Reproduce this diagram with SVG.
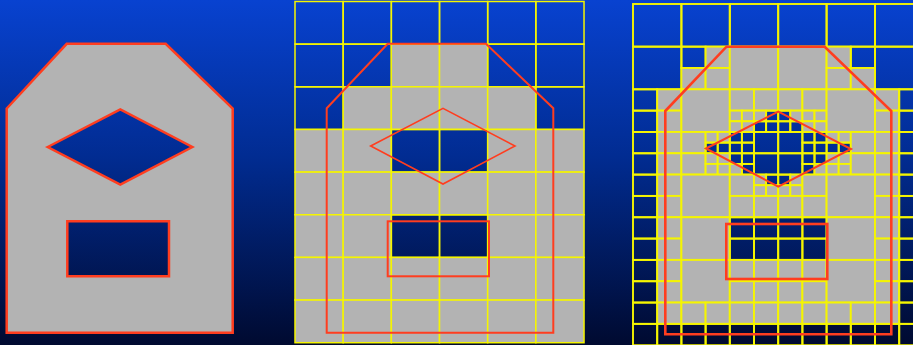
<svg xmlns="http://www.w3.org/2000/svg" width="913" height="345" viewBox="0 0 913 345">
<defs>
<linearGradient id="bg" x1="0" y1="0" x2="0" y2="1">
<stop offset="0" stop-color="#0842d0"/>
<stop offset="0.45" stop-color="#012c92"/>
<stop offset="1" stop-color="#000a30"/>
</linearGradient>
</defs>
<style>
.g{fill:#b3b3b3;stroke:#f5f500;stroke-width:1.5}
.b{fill:none;stroke:#f5f500;stroke-width:1.5}
#panel3 .g,#panel3 .b{stroke-width:1.9}
.red{fill:none;stroke:#ff3d1f;stroke-linejoin:miter}
.shape{fill:#b3b3b3;fill-rule:evenodd;stroke:#ff3d1f;stroke-width:2.5}
</style>
<rect width="913" height="345" fill="url(#bg)"/>

<g id="panel1">
<path class="shape" d="M6.7,108.5 L66.7,43.8 L165.7,43.8 L232.7,108.5 L232.7,332.7 L6.7,332.7 Z M47.7,147 L120.3,109.5 L192.3,147 L120.3,184.7 Z M67.3,221.3 L169,221.3 L169,276.3 L67.3,276.3 Z"/>
</g>

<g id="panel2">
<g id="p2-cells">
<rect class="b" x="295" y="1.5" width="48.17" height="42.65"/>
<rect class="b" x="343.17" y="1.5" width="48.17" height="42.65"/>
<rect class="b" x="391.34" y="1.5" width="48.17" height="42.65"/>
<rect class="b" x="439.51" y="1.5" width="48.17" height="42.65"/>
<rect class="b" x="487.68" y="1.5" width="48.17" height="42.65"/>
<rect class="b" x="535.85" y="1.5" width="48.17" height="42.65"/>

<rect class="b" x="295" y="44.15" width="48.17" height="42.65"/>
<rect class="b" x="343.17" y="44.15" width="48.17" height="42.65"/>
<rect class="g" x="391.34" y="44.15" width="48.17" height="42.65"/>
<rect class="g" x="439.51" y="44.15" width="48.17" height="42.65"/>
<rect class="b" x="487.68" y="44.15" width="48.17" height="42.65"/>
<rect class="b" x="535.85" y="44.15" width="48.17" height="42.65"/>

<rect class="b" x="295" y="86.8" width="48.17" height="42.65"/>
<rect class="g" x="343.17" y="86.8" width="48.17" height="42.65"/>
<rect class="g" x="391.34" y="86.8" width="48.17" height="42.65"/>
<rect class="g" x="439.51" y="86.8" width="48.17" height="42.65"/>
<rect class="g" x="487.68" y="86.8" width="48.17" height="42.65"/>
<rect class="b" x="535.85" y="86.8" width="48.17" height="42.65"/>

<rect class="g" x="295" y="129.45" width="48.17" height="42.65"/>
<rect class="g" x="343.17" y="129.45" width="48.17" height="42.65"/>
<rect class="b" x="391.34" y="129.45" width="48.17" height="42.65"/>
<rect class="b" x="439.51" y="129.45" width="48.17" height="42.65"/>
<rect class="g" x="487.68" y="129.45" width="48.17" height="42.65"/>
<rect class="g" x="535.85" y="129.45" width="48.17" height="42.65"/>

<rect class="g" x="295" y="172.1" width="48.17" height="42.65"/>
<rect class="g" x="343.17" y="172.1" width="48.17" height="42.65"/>
<rect class="g" x="391.34" y="172.1" width="48.17" height="42.65"/>
<rect class="g" x="439.51" y="172.1" width="48.17" height="42.65"/>
<rect class="g" x="487.68" y="172.1" width="48.17" height="42.65"/>
<rect class="g" x="535.85" y="172.1" width="48.17" height="42.65"/>

<rect class="g" x="295" y="214.75" width="48.17" height="42.65"/>
<rect class="g" x="343.17" y="214.75" width="48.17" height="42.65"/>
<rect class="b" x="391.34" y="214.75" width="48.17" height="42.65"/>
<rect class="b" x="439.51" y="214.75" width="48.17" height="42.65"/>
<rect class="g" x="487.68" y="214.75" width="48.17" height="42.65"/>
<rect class="g" x="535.85" y="214.75" width="48.17" height="42.65"/>

<rect class="g" x="295" y="257.4" width="48.17" height="42.65"/>
<rect class="g" x="343.17" y="257.4" width="48.17" height="42.65"/>
<rect class="g" x="391.34" y="257.4" width="48.17" height="42.65"/>
<rect class="g" x="439.51" y="257.4" width="48.17" height="42.65"/>
<rect class="g" x="487.68" y="257.4" width="48.17" height="42.65"/>
<rect class="g" x="535.85" y="257.4" width="48.17" height="42.65"/>

<rect class="g" x="295" y="300.05" width="48.17" height="42.65"/>
<rect class="g" x="343.17" y="300.05" width="48.17" height="42.65"/>
<rect class="g" x="391.34" y="300.05" width="48.17" height="42.65"/>
<rect class="g" x="439.51" y="300.05" width="48.17" height="42.65"/>
<rect class="g" x="487.68" y="300.05" width="48.17" height="42.65"/>
<rect class="g" x="535.85" y="300.05" width="48.17" height="42.65"/>
</g>
<g id="p2-outline">
<path class="red" stroke-width="2" d="M326.7,108.3 L387.7,43.8 L486,43.8 L553.3,108.3 L553.3,332.7 L326.7,332.7 Z"/>
<path class="red" stroke-width="1.6" d="M370.7,146 L443,108.3 L515,146 L443,184 Z"/>
<rect class="red" stroke-width="2" x="387.7" y="221.3" width="101.3" height="55"/>
</g>
</g>

<g id="panel3">
<g id="p3-cells">
<rect class="b" x="633" y="4" width="48.4" height="42.65"/>
<rect class="b" x="681.4" y="4" width="48.4" height="42.65"/>
<rect class="b" x="729.8" y="4" width="48.4" height="42.65"/>
<rect class="b" x="778.2" y="4" width="48.4" height="42.65"/>
<rect class="b" x="826.6" y="4" width="48.4" height="42.65"/>
<rect class="b" x="875" y="4" width="48.4" height="42.65"/>
<rect class="b" x="633" y="46.65" width="48.4" height="42.65"/>
<g transform="translate(681.4,46.65)">
<rect class="b" width="24.2" height="21.33"/><rect class="g" x="24.2" width="24.2" height="21.33"/>
<rect class="g" y="21.33" width="24.2" height="21.33"/><rect class="g" x="24.2" y="21.33" width="24.2" height="21.33"/>
</g>
<rect class="g" x="729.8" y="46.65" width="48.4" height="42.65"/>
<rect class="g" x="778.2" y="46.65" width="48.4" height="42.65"/>
<g transform="translate(826.6,46.65)">
<rect class="g" width="24.2" height="21.33"/><rect class="b" x="24.2" width="24.2" height="21.33"/>
<rect class="g" y="21.33" width="24.2" height="21.33"/><rect class="g" x="24.2" y="21.33" width="24.2" height="21.33"/>
</g>
<rect class="b" x="875" y="46.65" width="48.4" height="42.65"/>
<g transform="translate(633,89.3)">
<rect class="b" width="24.2" height="21.33"/><rect class="g" x="24.2" width="24.2" height="21.33"/>
<rect class="b" y="21.33" width="24.2" height="21.33"/><rect class="g" x="24.2" y="21.33" width="24.2" height="21.33"/>
</g>
<rect class="g" x="681.4" y="89.3" width="48.4" height="42.65"/>
<g transform="translate(729.8,89.3)">
<rect class="g" width="24.2" height="21.33"/><rect class="g" x="24.2" width="24.2" height="21.33"/>
<rect class="g" x="0" y="21.33" width="12.1" height="10.66"/><rect class="g" x="12.1" y="21.33" width="12.1" height="10.66"/>
<rect class="g" x="0" y="31.99" width="12.1" height="10.66"/><rect class="g" x="12.1" y="31.99" width="12.1" height="10.66"/>
<rect class="g" x="24.2" y="21.33" width="12.1" height="10.66"/><rect class="b" x="36.3" y="21.33" width="12.1" height="10.66"/>
<rect class="b" x="24.2" y="31.99" width="12.1" height="10.66"/><rect class="b" x="36.3" y="31.99" width="12.1" height="10.66"/>
</g>
<g transform="translate(778.2,89.3)">
<rect class="g" width="24.2" height="21.33"/><rect class="g" x="24.2" width="24.2" height="21.33"/>
<rect class="b" x="0" y="21.33" width="12.1" height="10.66"/><rect class="g" x="12.1" y="21.33" width="12.1" height="10.66"/>
<rect class="b" x="0" y="31.99" width="12.1" height="10.66"/><rect class="b" x="12.1" y="31.99" width="12.1" height="10.66"/>
<rect class="g" x="24.2" y="21.33" width="12.1" height="10.66"/><rect class="g" x="36.3" y="21.33" width="12.1" height="10.66"/>
<rect class="g" x="24.2" y="31.99" width="12.1" height="10.66"/><rect class="g" x="36.3" y="31.99" width="12.1" height="10.66"/>
</g>
<rect class="g" x="826.6" y="89.3" width="48.4" height="42.65"/>
<g transform="translate(875,89.3)">
<rect class="g" width="24.2" height="21.33"/><rect class="b" x="24.2" width="24.2" height="21.33"/>
<rect class="g" y="21.33" width="24.2" height="21.33"/><rect class="b" x="24.2" y="21.33" width="24.2" height="21.33"/>
</g>
<g transform="translate(633,131.95)">
<rect class="b" width="24.2" height="21.33"/><rect class="g" x="24.2" width="24.2" height="21.33"/>
<rect class="b" y="21.33" width="24.2" height="21.33"/><rect class="g" x="24.2" y="21.33" width="24.2" height="21.33"/>
</g>
<g transform="translate(681.4,131.95)">
<rect class="g" width="24.2" height="21.33"/>
<rect class="g" x="24.2" y="0" width="12.1" height="10.66"/><rect class="g" x="36.3" y="0" width="12.1" height="10.66"/>
<rect class="b" x="24.2" y="10.66" width="12.1" height="10.66"/><rect class="b" x="36.3" y="10.66" width="12.1" height="10.66"/>
<rect class="g" y="21.33" width="24.2" height="21.33"/>
<rect class="g" x="24.2" y="21.33" width="12.1" height="10.66"/><rect class="g" x="36.3" y="21.33" width="12.1" height="10.66"/>
<rect class="g" x="24.2" y="31.99" width="12.1" height="10.66"/><rect class="g" x="36.3" y="31.99" width="12.1" height="10.66"/>
</g>
<g transform="translate(729.8,131.95)">
<rect class="b" x="0" y="0" width="12.1" height="10.66"/><rect class="b" x="12.1" y="0" width="12.1" height="10.66"/>
<rect class="b" x="0" y="10.66" width="12.1" height="10.66"/><rect class="b" x="12.1" y="10.66" width="12.1" height="10.66"/>
<rect class="b" x="24.2" width="24.2" height="21.33"/>
<rect class="b" x="0" y="21.33" width="12.1" height="10.66"/><rect class="b" x="12.1" y="21.33" width="12.1" height="10.66"/>
<rect class="g" x="0" y="31.99" width="12.1" height="10.66"/><rect class="b" x="12.1" y="31.99" width="12.1" height="10.66"/>
<rect class="b" x="24.2" y="21.33" width="24.2" height="21.33"/>
</g>
<g transform="translate(778.2,131.95)">
<rect class="b" width="24.2" height="21.33"/>
<rect class="b" x="24.2" y="0" width="12.1" height="10.66"/><rect class="b" x="36.3" y="0" width="12.1" height="10.66"/>
<rect class="b" x="24.2" y="10.66" width="12.1" height="10.66"/><rect class="b" x="36.3" y="10.66" width="12.1" height="10.66"/>
<rect class="b" y="21.33" width="24.2" height="21.33"/>
<rect class="b" x="24.2" y="21.33" width="12.1" height="10.66"/><rect class="b" x="36.3" y="21.33" width="12.1" height="10.66"/>
<rect class="b" x="24.2" y="31.99" width="12.1" height="10.66"/><rect class="g" x="36.3" y="31.99" width="12.1" height="10.66"/>
</g>
<g transform="translate(826.6,131.95)">
<rect class="g" x="0" y="0" width="12.1" height="10.66"/><rect class="g" x="12.1" y="0" width="12.1" height="10.66"/>
<rect class="b" x="0" y="10.66" width="12.1" height="10.66"/><rect class="b" x="12.1" y="10.66" width="12.1" height="10.66"/>
<rect class="g" x="24.2" width="24.2" height="21.33"/>
<rect class="g" x="0" y="21.33" width="12.1" height="10.66"/><rect class="g" x="12.1" y="21.33" width="12.1" height="10.66"/>
<rect class="g" x="0" y="31.99" width="12.1" height="10.66"/><rect class="g" x="12.1" y="31.99" width="12.1" height="10.66"/>
<rect class="g" x="24.2" y="21.33" width="24.2" height="21.33"/>
</g>
<g transform="translate(875,131.95)">
<rect class="g" width="24.2" height="21.33"/><rect class="b" x="24.2" width="24.2" height="21.33"/>
<rect class="g" y="21.33" width="24.2" height="21.33"/><rect class="b" x="24.2" y="21.33" width="24.2" height="21.33"/>
</g>
<g transform="translate(633,174.6)">
<rect class="b" width="24.2" height="21.33"/><rect class="g" x="24.2" width="24.2" height="21.33"/>
<rect class="b" y="21.33" width="24.2" height="21.33"/><rect class="g" x="24.2" y="21.33" width="24.2" height="21.33"/>
</g>
<rect class="g" x="681.4" y="174.6" width="48.4" height="42.65"/>
<g transform="translate(729.8,174.6)">
<rect class="g" width="24.2" height="21.33"/>
<rect class="g" x="24.2" y="0" width="12.1" height="10.66"/><rect class="b" x="36.3" y="0" width="12.1" height="10.66"/>
<rect class="g" x="24.2" y="10.66" width="12.1" height="10.66"/><rect class="g" x="36.3" y="10.66" width="12.1" height="10.66"/>
<rect class="g" y="21.33" width="24.2" height="21.33"/><rect class="g" x="24.2" y="21.33" width="24.2" height="21.33"/>
</g>
<g transform="translate(778.2,174.6)">
<rect class="b" x="0" y="0" width="12.1" height="10.66"/><rect class="g" x="12.1" y="0" width="12.1" height="10.66"/>
<rect class="g" x="0" y="10.66" width="12.1" height="10.66"/><rect class="g" x="12.1" y="10.66" width="12.1" height="10.66"/>
<rect class="g" x="24.2" width="24.2" height="21.33"/>
<rect class="g" y="21.33" width="24.2" height="21.33"/><rect class="g" x="24.2" y="21.33" width="24.2" height="21.33"/>
</g>
<rect class="g" x="826.6" y="174.6" width="48.4" height="42.65"/>
<g transform="translate(875,174.6)">
<rect class="g" width="24.2" height="21.33"/><rect class="b" x="24.2" width="24.2" height="21.33"/>
<rect class="g" y="21.33" width="24.2" height="21.33"/><rect class="b" x="24.2" y="21.33" width="24.2" height="21.33"/>
</g>
<g transform="translate(633,217.25)">
<rect class="b" width="24.2" height="21.33"/><rect class="g" x="24.2" width="24.2" height="21.33"/>
<rect class="b" y="21.33" width="24.2" height="21.33"/><rect class="g" x="24.2" y="21.33" width="24.2" height="21.33"/>
</g>
<rect class="g" x="681.4" y="217.25" width="48.4" height="42.65"/>
<g transform="translate(729.8,217.25)">
<rect class="b" width="24.2" height="21.33"/><rect class="b" x="24.2" width="24.2" height="21.33"/>
<rect class="b" y="21.33" width="24.2" height="21.33"/><rect class="b" x="24.2" y="21.33" width="24.2" height="21.33"/>
</g>
<g transform="translate(778.2,217.25)">
<rect class="b" width="24.2" height="21.33"/><rect class="b" x="24.2" width="24.2" height="21.33"/>
<rect class="b" y="21.33" width="24.2" height="21.33"/><rect class="b" x="24.2" y="21.33" width="24.2" height="21.33"/>
</g>
<rect class="g" x="826.6" y="217.25" width="48.4" height="42.65"/>
<g transform="translate(875,217.25)">
<rect class="g" width="24.2" height="21.33"/><rect class="b" x="24.2" width="24.2" height="21.33"/>
<rect class="g" y="21.33" width="24.2" height="21.33"/><rect class="b" x="24.2" y="21.33" width="24.2" height="21.33"/>
</g>
<g transform="translate(633,259.9)">
<rect class="b" width="24.2" height="21.33"/><rect class="g" x="24.2" width="24.2" height="21.33"/>
<rect class="b" y="21.33" width="24.2" height="21.33"/><rect class="g" x="24.2" y="21.33" width="24.2" height="21.33"/>
</g>
<rect class="g" x="681.4" y="259.9" width="48.4" height="42.65"/>
<g transform="translate(729.8,259.9)">
<rect class="g" width="24.2" height="21.33"/><rect class="g" x="24.2" width="24.2" height="21.33"/>
<rect class="g" y="21.33" width="24.2" height="21.33"/><rect class="g" x="24.2" y="21.33" width="24.2" height="21.33"/>
</g>
<g transform="translate(778.2,259.9)">
<rect class="g" width="24.2" height="21.33"/><rect class="g" x="24.2" width="24.2" height="21.33"/>
<rect class="g" y="21.33" width="24.2" height="21.33"/><rect class="g" x="24.2" y="21.33" width="24.2" height="21.33"/>
</g>
<rect class="g" x="826.6" y="259.9" width="48.4" height="42.65"/>
<g transform="translate(875,259.9)">
<rect class="g" width="24.2" height="21.33"/><rect class="b" x="24.2" width="24.2" height="21.33"/>
<rect class="g" y="21.33" width="24.2" height="21.33"/><rect class="b" x="24.2" y="21.33" width="24.2" height="21.33"/>
</g>
<g transform="translate(633,302.55)">
<rect class="b" width="24.2" height="21.33"/><rect class="g" x="24.2" width="24.2" height="21.33"/>
<rect class="b" y="21.33" width="24.2" height="21.33"/><rect class="b" x="24.2" y="21.33" width="24.2" height="21.33"/>
</g>
<g transform="translate(681.4,302.55)">
<rect class="g" width="24.2" height="21.33"/><rect class="g" x="24.2" width="24.2" height="21.33"/>
<rect class="b" y="21.33" width="24.2" height="21.33"/><rect class="b" x="24.2" y="21.33" width="24.2" height="21.33"/>
</g>
<g transform="translate(729.8,302.55)">
<rect class="g" width="24.2" height="21.33"/><rect class="g" x="24.2" width="24.2" height="21.33"/>
<rect class="b" y="21.33" width="24.2" height="21.33"/><rect class="b" x="24.2" y="21.33" width="24.2" height="21.33"/>
</g>
<g transform="translate(778.2,302.55)">
<rect class="g" width="24.2" height="21.33"/><rect class="g" x="24.2" width="24.2" height="21.33"/>
<rect class="b" y="21.33" width="24.2" height="21.33"/><rect class="b" x="24.2" y="21.33" width="24.2" height="21.33"/>
</g>
<g transform="translate(826.6,302.55)">
<rect class="g" width="24.2" height="21.33"/><rect class="g" x="24.2" width="24.2" height="21.33"/>
<rect class="b" y="21.33" width="24.2" height="21.33"/><rect class="b" x="24.2" y="21.33" width="24.2" height="21.33"/>
</g>
<g transform="translate(875,302.55)">
<rect class="g" width="24.2" height="21.33"/><rect class="b" x="24.2" width="24.2" height="21.33"/>
<rect class="b" y="21.33" width="24.2" height="21.33"/><rect class="b" x="24.2" y="21.33" width="24.2" height="21.33"/>
</g>
</g>
<g id="p3-outline">
<path class="red" stroke-width="2.6" d="M665.3,111 L726.5,46.7 L824.7,46.7 L891.3,111 L891.3,334.3 L665.3,334.3 Z"/>
<path class="red" stroke-width="2" d="M706,148.5 L778.3,111.7 L851,149 L778.3,186.7 Z"/>
<rect class="red" stroke-width="2.6" x="726.3" y="224" width="101" height="55"/>
</g>
</g>
</svg>
